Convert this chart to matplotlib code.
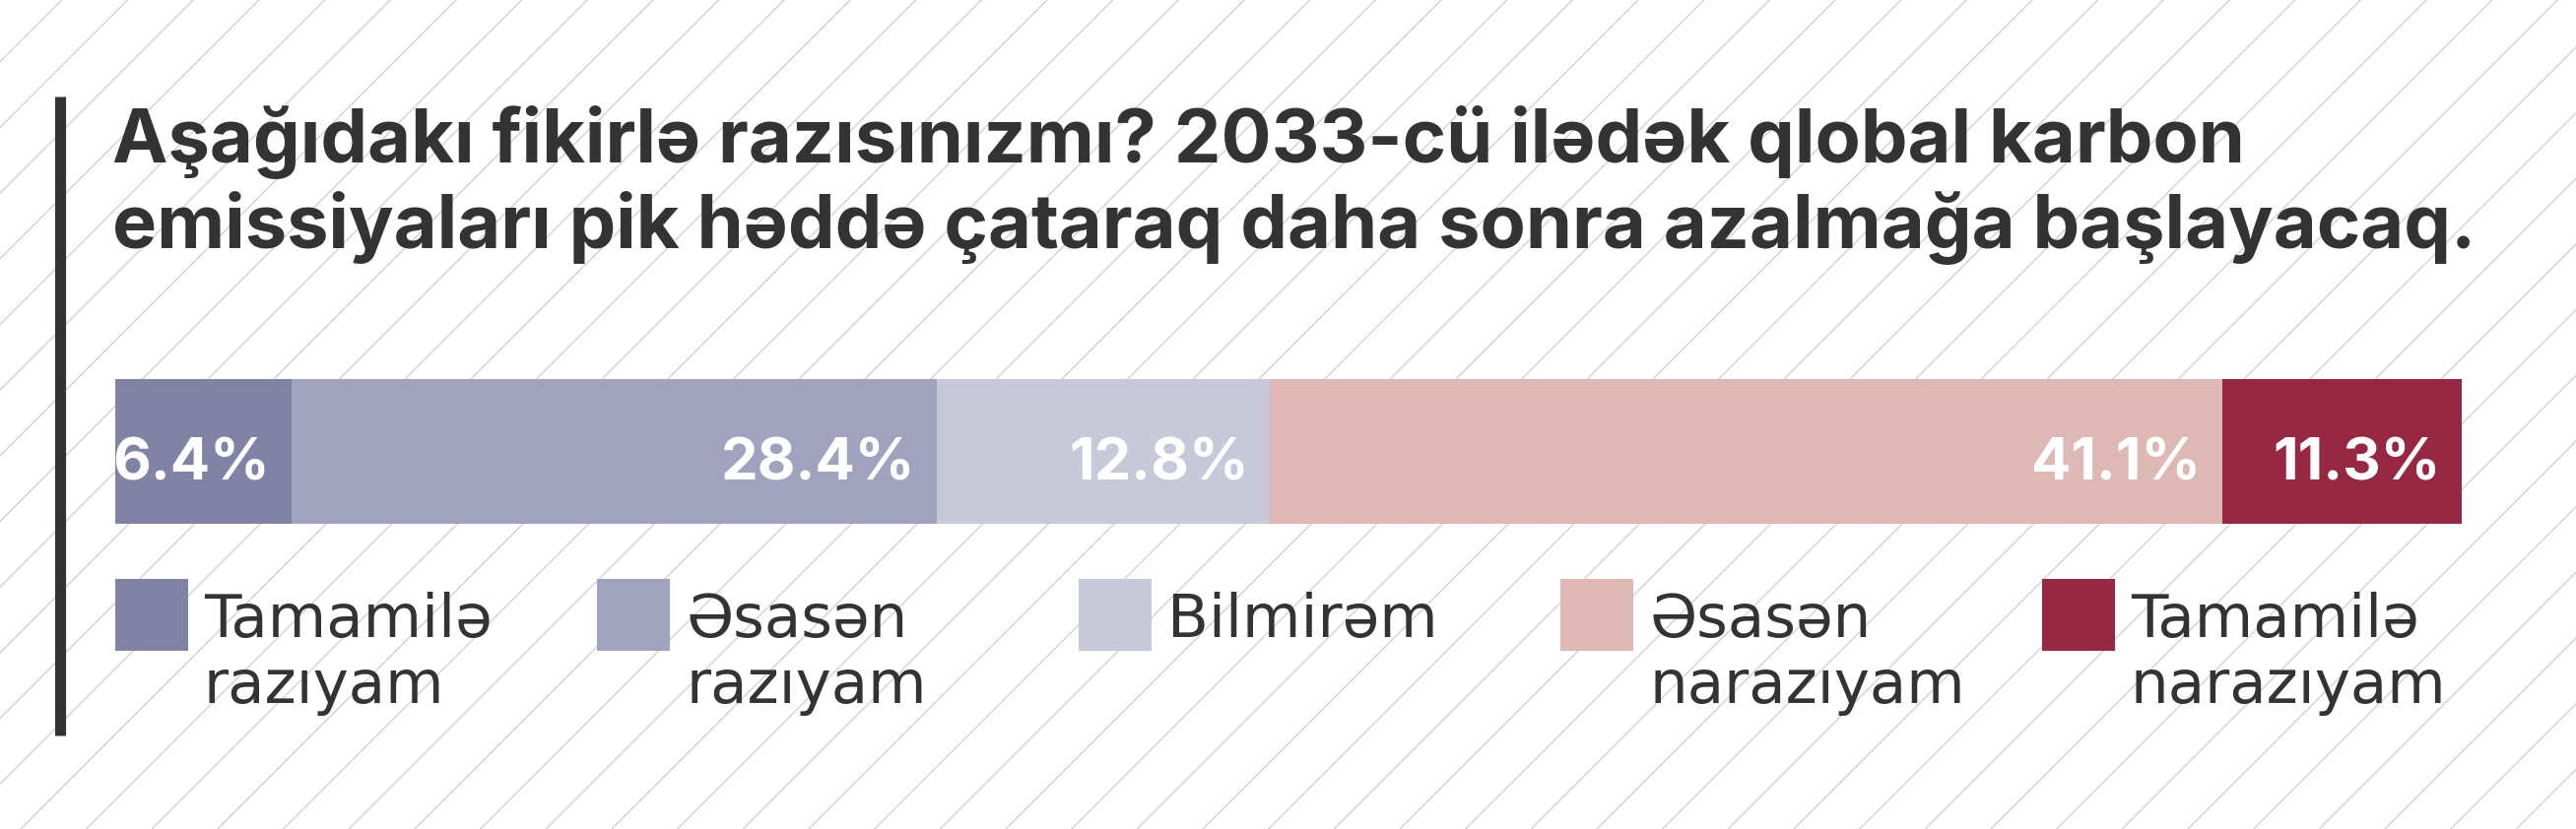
import matplotlib
matplotlib.use("Agg")
import matplotlib.pyplot as plt
from matplotlib.patches import Rectangle
import numpy as np

# data
labels = ["Tamamilə\nrazıyam", "Əsasən\nrazıyam", "Bilmirəm", "Əsasən\nnarazıyam", "Tamamilə\nnarazıyam"]
pct = [6.4, 28.4, 12.8, 41.1, 11.3]              # printed values
bar_len = [7.5, 27.5, 14.2, 40.6, 10.2]           # segment lengths as drawn in the picture (% of bar)
colors = ["#8083a4", "#a1a2be", "#c7c9d9", "#ddb8b5", "#972844"]

title_lines = ["Aşağıdakı fikirlə razısınızmı? 2033-cü ilədək qlobal karbon",
               "emissiyaları pik həddə çataraq daha sonra azalmağa başlayacaq."]

W, H = 2615, 842
fig = plt.figure(figsize=(W / 100, H / 100), dpi=100)
fig.patch.set_facecolor("white")

# background layer in pixel coords
bg = fig.add_axes([0, 0, 1, 1])
bg.set_xlim(0, W)
bg.set_ylim(H, 0)
bg.axis("off")

# diagonal hatching
for c in np.arange(13.5 - 2 * H, W + H, 66.67):
    bg.plot([c, c - H], [0, H], color="#d6d6d6", lw=1.1, zorder=0)

# left rule
bg.plot([60.5, 60.5], [98, 747], color="#333333", lw=8, solid_capstyle="butt", zorder=2)

# title
for i, line in enumerate(title_lines):
    bg.text(114, 165 + i * 87, line, fontsize=54.5, fontweight="bold", family="Inter",
            color="#333333", va="baseline", ha="left", zorder=3)

# legend
for i, (lab, col) in enumerate(zip(labels, colors)):
    x0 = 117 + i * 489
    bg.add_patch(Rectangle((x0, 588), 74, 73, facecolor=col, edgecolor="none", zorder=3))
    for j, part in enumerate(lab.split("\n")):
        bg.text(x0 + 90, 647 + j * 67, part, fontsize=44, family="DejaVu Sans",
                color="#333333", va="baseline", ha="left", zorder=3)

# stacked bar
ax = fig.add_axes([117 / W, (H - 532) / H, 2382 / W, 147 / H])
left = np.concatenate([[0], np.cumsum(bar_len)[:-1]])
ax.barh(0, bar_len, left=left, height=1.0, color=colors, edgecolor="none")
ax.set_xlim(0, sum(bar_len))
ax.set_ylim(-0.5, 0.5)
ax.axis("off")

for l, w, p in zip(left, bar_len, pct):
    ax.text(l + w - 0.9, -0.2, f"{p:.1f}%", ha="right", va="baseline",
            fontsize=43, fontweight="bold", family="Inter", color="white")

fig.savefig("out.png", dpi=100)
